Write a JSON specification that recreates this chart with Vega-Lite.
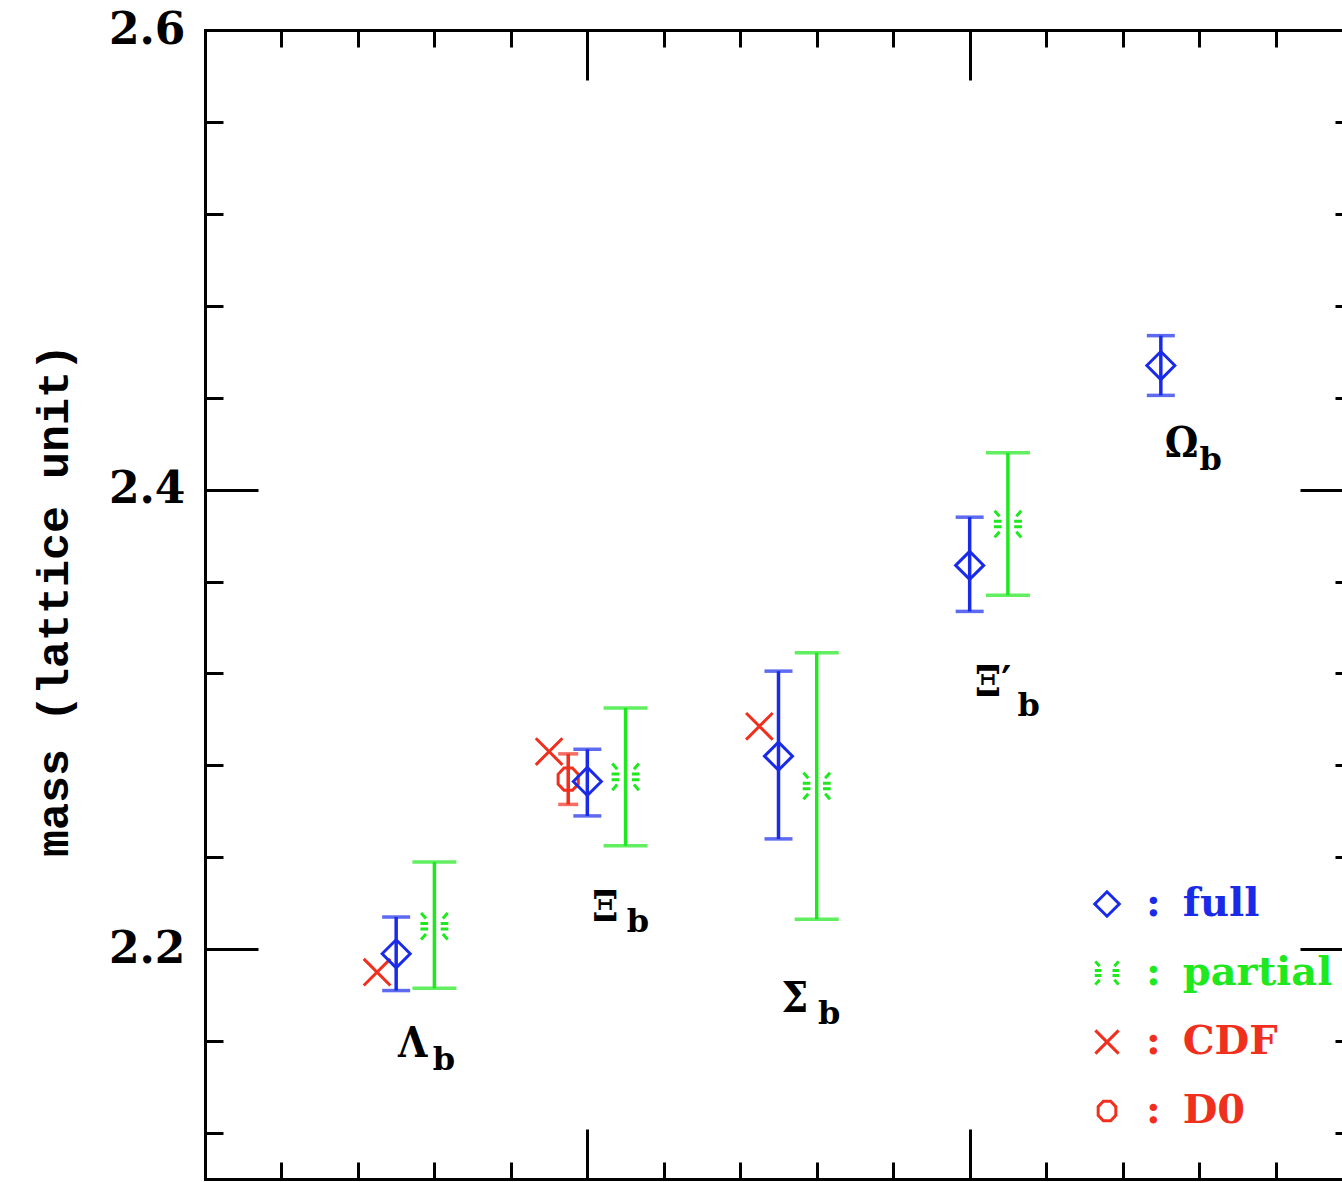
{
  "$schema": "https://vega.github.io/schema/vega-lite/v6.json",
  "usermeta": {"embedOptions": {"actions": false}},
  "width": 1147,
  "height": 1149,
  "autosize": {"type": "none"},
  "padding": {"left": 205, "top": 30, "right": -10, "bottom": 3},
  "background": "white",
  "config": {"view": {"stroke": null}, "font": "DejaVu Serif"},
  "datasets": {
    "masses": [
      {"baryon": "Λb", "method": "CDF", "x": 0.45, "y": 2.190},
      {"baryon": "Λb", "method": "full", "x": 0.5, "y": 2.198, "lo": 2.182, "hi": 2.214},
      {"baryon": "Λb", "method": "partial", "x": 0.6, "y": 2.210, "lo": 2.183, "hi": 2.238},
      {"baryon": "Ξb", "method": "CDF", "x": 0.9, "y": 2.286},
      {"baryon": "Ξb", "method": "D0", "x": 0.95, "y": 2.274, "lo": 2.263, "hi": 2.285},
      {"baryon": "Ξb", "method": "full", "x": 1.0, "y": 2.273, "lo": 2.258, "hi": 2.287},
      {"baryon": "Ξb", "method": "partial", "x": 1.1, "y": 2.275, "lo": 2.245, "hi": 2.305},
      {"baryon": "Σb", "method": "CDF", "x": 1.45, "y": 2.297},
      {"baryon": "Σb", "method": "full", "x": 1.5, "y": 2.284, "lo": 2.248, "hi": 2.321},
      {"baryon": "Σb", "method": "partial", "x": 1.6, "y": 2.271, "lo": 2.213, "hi": 2.329},
      {"baryon": "Ξ′b", "method": "full", "x": 2.0, "y": 2.367, "lo": 2.347, "hi": 2.388},
      {"baryon": "Ξ′b", "method": "partial", "x": 2.1, "y": 2.385, "lo": 2.354, "hi": 2.416},
      {"baryon": "Ωb", "method": "full", "x": 2.5, "y": 2.454, "lo": 2.441, "hi": 2.467}
    ],
    "names": [
      {"glyph": "Λ", "gx": 0.505, "gy": 2.153, "sx": 0.596, "sy": 2.1474},
      {"glyph": "Ξ", "gx": 1.012, "gy": 2.2122, "sx": 1.103, "sy": 2.2074},
      {"glyph": "Σ", "gx": 1.508, "gy": 2.1726, "sx": 1.603, "sy": 2.1674},
      {"glyph": "Ξ′", "gx": 2.013, "gy": 2.31, "sx": 2.125, "sy": 2.3013},
      {"glyph": "Ω", "gx": 2.51, "gy": 2.4143, "sx": 2.601, "sy": 2.4087}
    ]
  },
  "resolve": {"axis": {"x": "independent", "y": "independent"}},
  "layer": [
    {
      "data": {"name": "masses"},
      "transform": [{"filter": "isValid(datum.lo)"}],
      "mark": {"type": "rule", "strokeWidth": 3.5},
      "encoding": {
        "x": {
          "field": "x", "type": "quantitative",
          "scale": {"domain": [0, 3], "nice": false, "zero": false},
          "axis": {
            "orient": "bottom", "title": null, "labels": false, "grid": false,
            "values": [0, 0.2, 0.4, 0.6, 0.8, 1, 1.2, 1.4, 1.6, 1.8, 2, 2.2, 2.4, 2.6, 2.8, 3],
            "domainColor": "black", "domainWidth": 3, "domainCap": "square",
            "tickColor": "black", "tickWidth": 3,
            "tickSize": {"condition": {"test": "abs(datum.value - round(datum.value)) < 0.001", "value": -50}, "value": -17}
          }
        },
        "y": {
          "field": "lo", "type": "quantitative",
          "scale": {"domain": [2.1, 2.6], "nice": false, "zero": false},
          "axis": {
            "orient": "left", "grid": false,
            "values": [2.12, 2.16, 2.2, 2.24, 2.28, 2.32, 2.36, 2.4, 2.44, 2.48, 2.52, 2.56, 2.6],
            "domainColor": "black", "domainWidth": 3, "domainCap": "square",
            "tickColor": "black", "tickWidth": 3,
            "tickSize": {"condition": {"test": "abs(datum.value * 5 - round(datum.value * 5)) < 0.001", "value": -53}, "value": -18},
            "labelExpr": "abs(datum.value * 5 - round(datum.value * 5)) < 0.001 ? format(datum.value, '.1f') : ''",
            "labelFont": "DejaVu Serif", "labelFontSize": 44, "labelFontWeight": "bold",
            "labelColor": "black", "labelPadding": 73, "labelFlush": false, "labelOverlap": false,
            "labelBaseline": "middle",
            "title": "mass (lattice unit)",
            "titleFont": "Liberation Mono", "titleFontSize": 45, "titleFontWeight": "bold",
            "titleColor": "black", "titleAngle": -90, "titleAlign": "center",
            "titleBaseline": "alphabetic", "titleX": -138, "titleY": 570
          }
        },
        "y2": {"field": "hi"},
        "color": {
          "field": "method", "type": "nominal",
          "scale": {"domain": ["full", "partial", "CDF", "D0"], "range": ["#1a2be8", "#1ee81e", "#f0301e", "#f0301e"]},
          "legend": {
            "title": null, "orient": "none", "legendX": 882, "legendY": 854,
            "padding": 0, "symbolSize": 600, "symbolStrokeWidth": 3, "symbolFillColor": "transparent",
            "labelFont": "DejaVu Serif", "labelFontSize": 40, "labelFontWeight": "bold",
            "labelOffset": 19, "rowPadding": 29, "labelLimit": 400,
            "labelExpr": "':  \u2009' + datum.label",
            "encode": {
              "symbols": {"update": {
                "shape": {"scale": "shape", "field": "value"},
                "stroke": {"scale": "color", "field": "value"},
                "fill": {"value": "transparent"},
                "fillOpacity": {"value": 0},
                "strokeWidth": {"value": 3},
                "opacity": {"value": 1}
              }},
              "labels": {"update": {"fill": {"scale": "color", "field": "value"}}}
            }
          }
        }
      }
    },
    {
      "data": {"name": "masses"},
      "transform": [
        {"filter": "isValid(datum.lo)"},
        {"fold": ["lo", "hi"], "as": ["end", "yv"]}
      ],
      "mark": {"type": "tick", "orient": "horizontal", "thickness": 3.5},
      "encoding": {
        "x": {
          "field": "x", "type": "quantitative",
          "axis": {
            "orient": "top", "title": null, "labels": false, "grid": false,
            "values": [0, 0.2, 0.4, 0.6, 0.8, 1, 1.2, 1.4, 1.6, 1.8, 2, 2.2, 2.4, 2.6, 2.8, 3],
            "domainColor": "black", "domainWidth": 3, "domainCap": "square",
            "tickColor": "black", "tickWidth": 3,
            "tickSize": {"condition": {"test": "abs(datum.value - round(datum.value)) < 0.001", "value": -50}, "value": -17}
          }
        },
        "y": {
          "field": "yv", "type": "quantitative",
          "axis": {
            "orient": "right", "title": null, "labels": false, "grid": false, "domain": false,
            "values": [2.12, 2.16, 2.2, 2.24, 2.28, 2.32, 2.36, 2.4, 2.44, 2.48, 2.52, 2.56, 2.6],
            "tickColor": "black", "tickWidth": 3,
            "tickSize": {"condition": {"test": "abs(datum.value * 5 - round(datum.value * 5)) < 0.001", "value": -52}, "value": -17}
          }
        },
        "color": {"field": "method", "type": "nominal"},
        "size": {
          "field": "method", "type": "nominal",
          "scale": {"type": "ordinal", "domain": ["full", "partial", "D0"], "range": [28, 44, 20]},
          "legend": null
        }
      }
    },
    {
      "data": {"name": "masses"},
      "mark": {"type": "point", "filled": false, "strokeWidth": 3, "size": 784, "opacity": 1},
      "encoding": {
        "x": {"field": "x", "type": "quantitative", "axis": null},
        "y": {"field": "y", "type": "quantitative", "axis": null},
        "color": {"field": "method", "type": "nominal"},
        "shape": {
          "field": "method", "type": "nominal",
          "scale": {
            "domain": ["full", "partial", "CDF", "D0"],
            "range": [
              "M-1,0L0,-1L1,0L0,1Z",
              "M-0.95,-0.95L-0.6,-0.55M0.95,-0.95L0.6,-0.55M-0.95,0.95L-0.6,0.55M0.95,0.95L0.6,0.55M-1,-0.2L-0.45,-0.2M1,-0.2L0.45,-0.2M-1,0.2L-0.45,0.2M1,0.2L0.45,0.2",
              "M-0.95,-0.95L0.95,0.95M-0.95,0.95L0.95,-0.95",
              "M0.3,-0.8L0.72,-0.35L0.72,0.35L0.3,0.8L-0.3,0.8L-0.72,0.35L-0.72,-0.35L-0.3,-0.8Z"
            ]
          },
          "legend": null
        }
      }
    },
    {
      "data": {"name": "names"},
      "mark": {"type": "text", "align": "left", "baseline": "alphabetic", "font": "'DejaVu Serif Condensed', 'DejaVu Serif'", "fontSize": 42, "fontWeight": "bold", "color": "black"},
      "encoding": {
        "x": {"field": "gx", "type": "quantitative", "axis": null},
        "y": {"field": "gy", "type": "quantitative", "axis": null},
        "text": {"field": "glyph"}
      }
    },
    {
      "data": {"name": "names"},
      "mark": {"type": "text", "align": "left", "baseline": "alphabetic", "font": "DejaVu Serif", "fontSize": 32, "fontWeight": "bold", "color": "black", "text": "b"},
      "encoding": {
        "x": {"field": "sx", "type": "quantitative", "axis": null},
        "y": {"field": "sy", "type": "quantitative", "axis": null}
      }
    }
  ]
}
